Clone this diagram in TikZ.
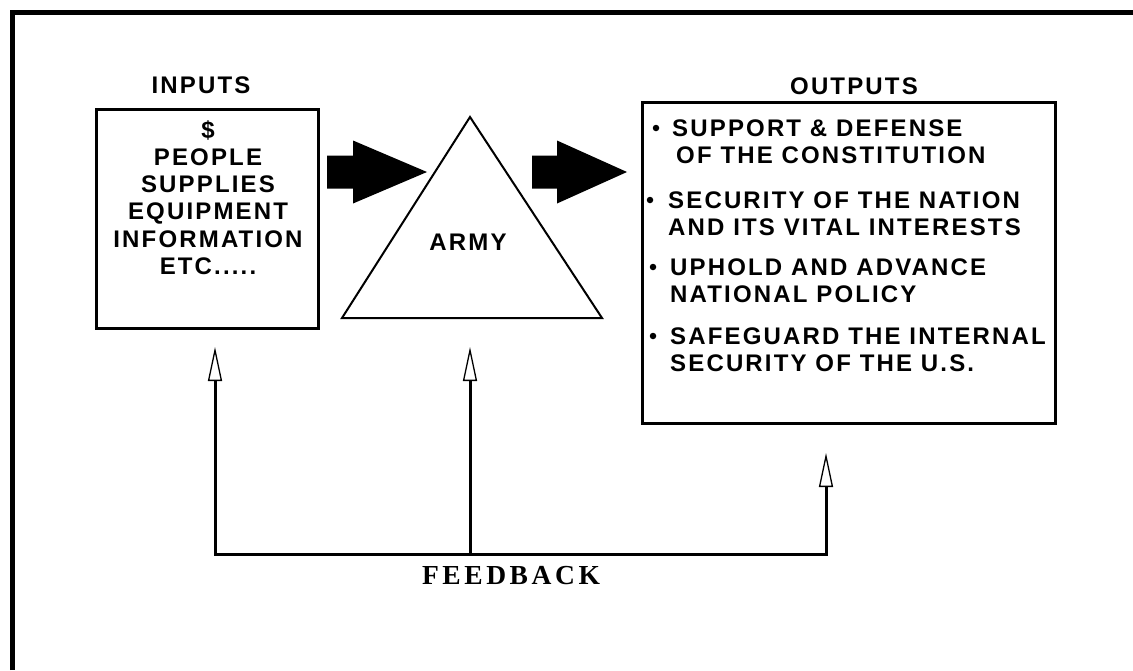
\documentclass[tikz,border=0pt]{standalone}
\usepackage{fontspec}
\usetikzlibrary{arrows.meta}
\newfontfamily\labelfont{Liberation Sans}[LetterSpace=9]
\newfontfamily\captionfont{Liberation Serif}[LetterSpace=13]

\begin{document}
\begin{tikzpicture}[x=1pt,y=-1pt,
  lbl/.style={font=\labelfont\bfseries\fontsize{24}{27.3}\selectfont, inner sep=0pt},
  intext/.style={lbl, align=center, anchor=north},
  outtext/.style={lbl, align=left, anchor=north west},
  box/.style={draw, line width=3pt, inner sep=0pt},
  tri/.style={draw, line width=2pt, line join=miter},
  bigarrow/.style={fill=black},
  bullet/.style={circle, fill=black, inner sep=0pt, minimum size=6.5pt},
  fbline/.style={line width=3pt},
  fbtip/.tip={Triangle[open, length=34pt, width=14pt, line width=1.3pt]},
  fbtext/.style={font=\captionfont\bfseries\fontsize{27.5}{30}\selectfont, inner sep=0pt}]

\useasboundingbox (0,0) rectangle (1133,670);

% outer frame (top and left rules)
\draw[line width=5.5pt, line join=miter] (12.5,670) -- (12.5,12.5) -- (1133,12.5);

% inputs
\node[lbl] (inlabel) at (201,85) {INPUTS};
\node[box, minimum width=222pt, minimum height=219pt] (inbox) at (207,218.5) {};
\node[intext] (inlist) at (208,120) {\$\\PEOPLE\\SUPPLIES\\EQUIPMENT\\INFORMATION\\ETC.....};

% the army
\coordinate (apex) at (470,117);
\coordinate (bl) at (342,318);
\coordinate (br) at (602,318);
\draw[tri] (apex) -- (bl) -- (br) -- cycle;
\node[lbl] (army) at (468,242) {ARMY};

% flow arrows
\fill[bigarrow] (327,155.5) -- (353,155.5) -- (353,140.5) -- (427,172) -- (353,203.5) -- (353,188.5) -- (327,188.5) -- cycle;
\fill[bigarrow] (532,155.5) -- (557,155.5) -- (557,140.5) -- (627,172) -- (557,203.5) -- (557,188.5) -- (532,188.5) -- cycle;

% outputs
\node[lbl] (outlabel) at (854,86.5) {OUTPUTS};
\node[box, minimum width=413pt, minimum height=321pt] (outbox) at (848.5,262.5) {};
\node[outtext] (o1) at (672,119.5) {SUPPORT \& DEFENSE\\\hspace*{4pt}OF THE CONSTITUTION};
\node[outtext] (o2) at (668,191.5) {SECURITY OF THE NATION\\AND ITS VITAL INTERESTS};
\node[outtext] (o3) at (670,258.5) {UPHOLD AND ADVANCE\\NATIONAL POLICY};
\node[outtext] (o4) at (670,327.5) {SAFEGUARD THE INTERNAL\\SECURITY OF THE U.S.};
\node[bullet] (b1) at (656,128) {};
\node[bullet] (b2) at (650,200) {};
\node[bullet] (b3) at (653,267) {};
\node[bullet] (b4) at (653,336) {};

% feedback loop
\coordinate (tipL) at (215,347);
\coordinate (tipM) at (470,347);
\coordinate (tipR) at (826,453);
\coordinate (fbL) at (215,554);
\coordinate (fbM) at (470,554);
\coordinate (fbR) at (826,554);
\draw[fbline, fbtip-fbtip, line join=miter] (tipL) -- (fbL) -- (fbR) -- (tipR);
\draw[fbline, -fbtip] (fbM) -- (tipM);
\node[fbtext] (fb) at (511,576) {FEEDBACK};
\end{tikzpicture}
\end{document}
